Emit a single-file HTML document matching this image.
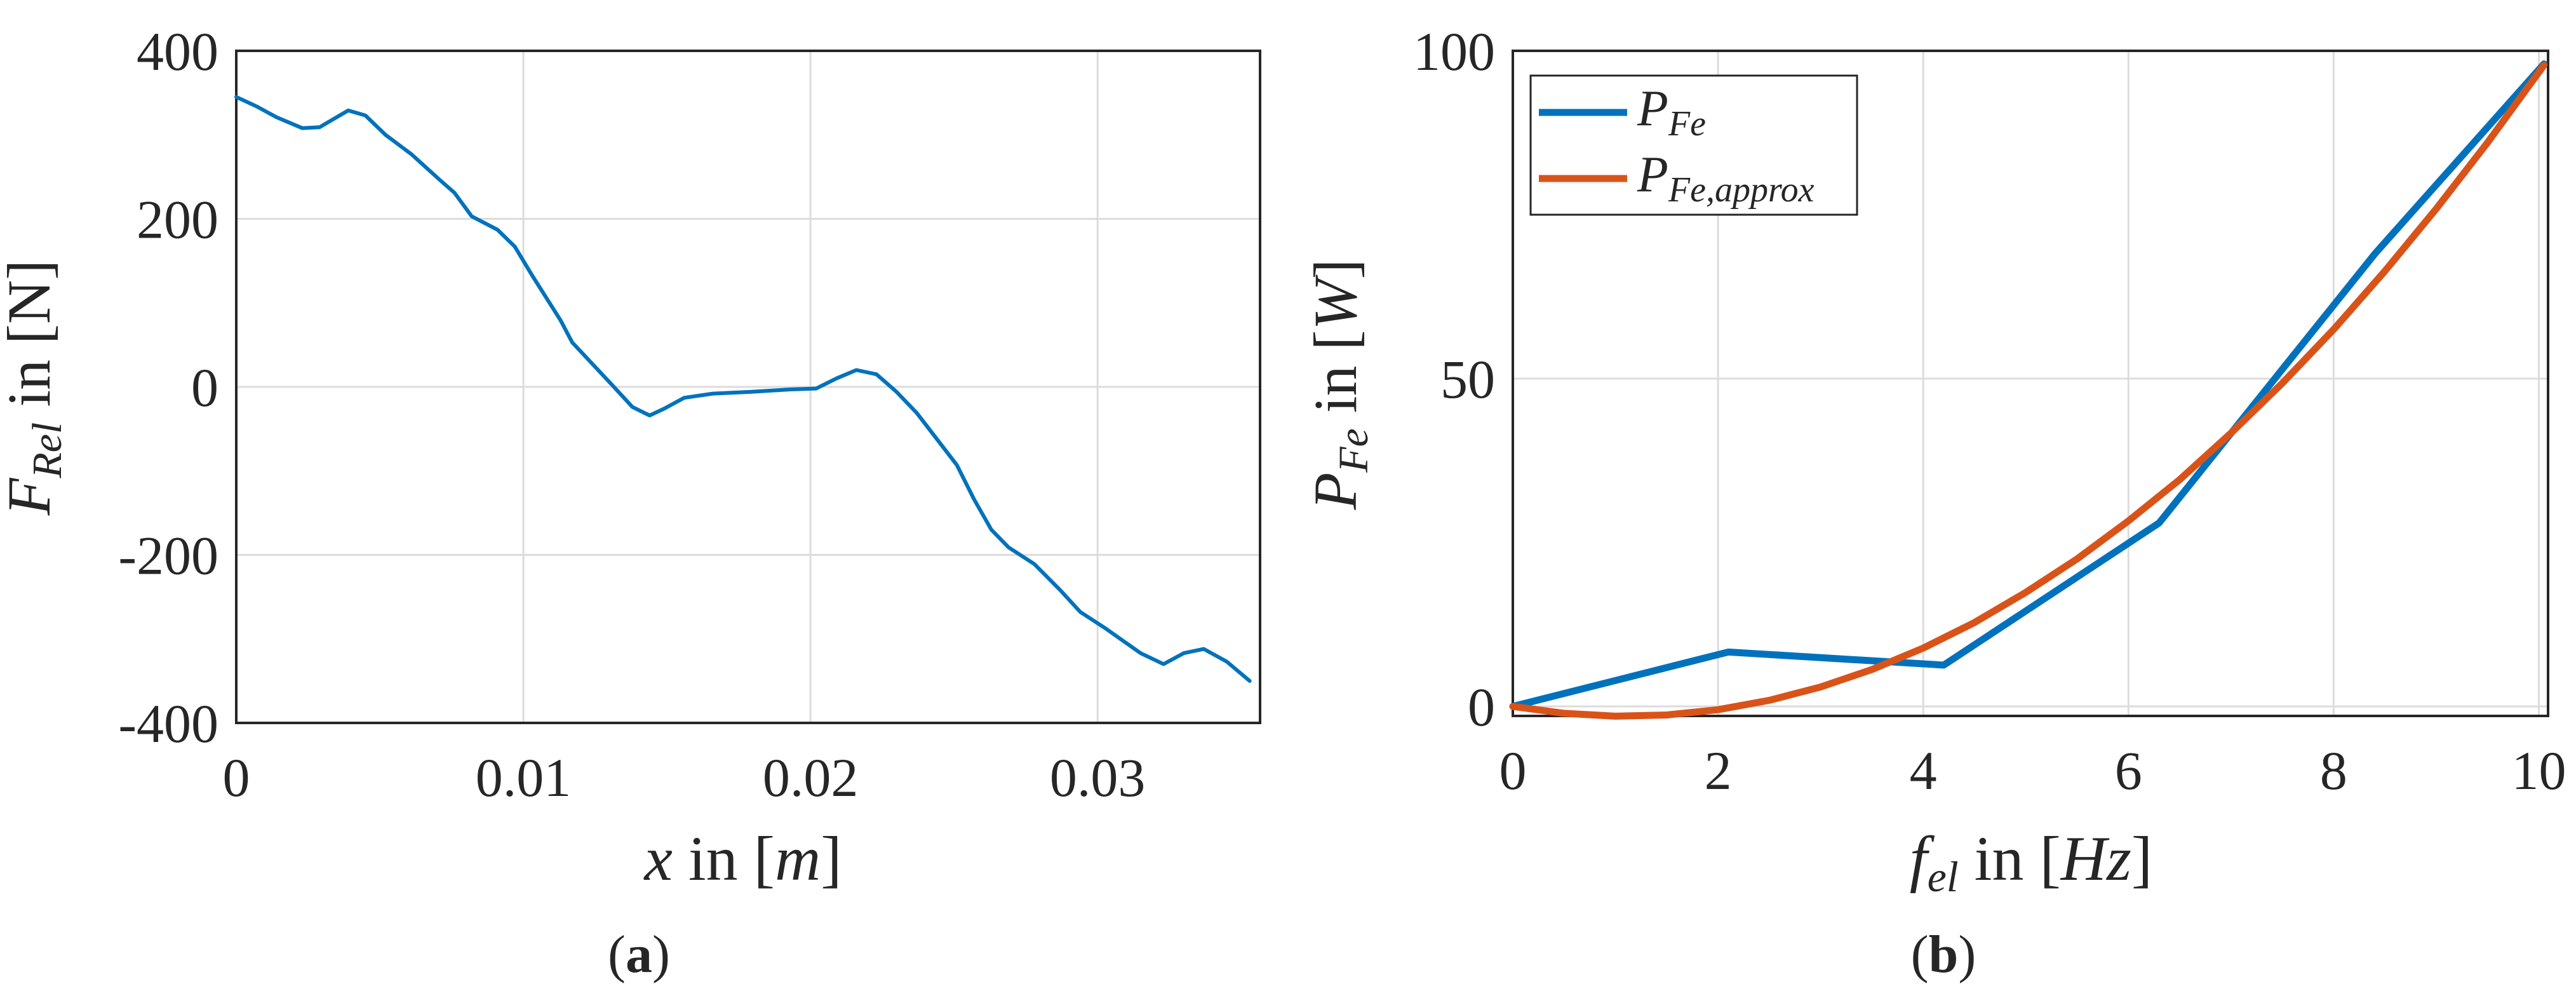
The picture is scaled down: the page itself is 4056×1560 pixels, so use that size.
<!DOCTYPE html>
<html><head><meta charset="utf-8"><style>
html,body{margin:0;padding:0;background:#fff;}
svg{display:block;}
text{font-family:"Liberation Serif",serif;fill:#262626;}
</style></head><body>
<svg id="fig" width="4056" height="1560" viewBox="0 0 4056 1560" xmlns="http://www.w3.org/2000/svg">
<g id="pa"></g>
<g id="pb"></g>
<text x="78" y="610" font-size="96" text-anchor="middle" transform="rotate(-90 78 610)"><tspan font-style="italic">F</tspan><tspan font-style="italic" font-size="66" dy="18">Rel</tspan><tspan dy="-18"> in [N]</tspan></text>
<text x="1170" y="1385" font-size="100" text-anchor="middle"><tspan font-style="italic">x</tspan> in [<tspan font-style="italic">m</tspan>]</text>
<text x="1006" y="1530" font-size="84" text-anchor="middle">(<tspan font-weight="bold">a</tspan>)</text>
<text x="2135" y="605" font-size="96" text-anchor="middle" transform="rotate(-90 2135 605)"><tspan font-style="italic">P</tspan><tspan font-style="italic" font-size="66" dy="18">Fe</tspan><tspan dy="-18"> in [</tspan><tspan font-style="italic">W</tspan>]</text>
<text x="3198" y="1385" font-size="100" text-anchor="middle"><tspan font-style="italic">f</tspan><tspan font-style="italic" font-size="68" dy="18">el</tspan><tspan dy="-18"> in [</tspan><tspan font-style="italic">Hz</tspan>]</text>
<text x="3060" y="1530" font-size="84" text-anchor="middle">(<tspan font-weight="bold">b</tspan>)</text>
</svg>
<script>
// Panel (a) data
const aX = [0,0.0007,0.0014,0.0023,0.0029,0.0039,0.0045,0.0052,0.0061,0.0071,0.0076,0.0082,0.0091,0.0097,0.0103,0.0113,0.0117,0.0131,0.0138,0.0144,0.0149,0.0156,0.0166,0.0179,0.0193,0.0202,0.0209,0.0216,0.0223,0.0230,0.0237,0.0244,0.0251,0.0257,0.0263,0.0269,0.0278,0.0287,0.0294,0.0303,0.0315,0.0323,0.0330,0.0337,0.0345,0.0353];
const aY = [345,334,321,308,309,329,323,300,277,246,231,203,187,167,133,79,53,2,-24,-34,-26,-13,-8,-6,-3,-2,10,20,15,-6,-31,-62,-93,-134,-170,-191,-211,-242,-268,-288,-317,-330,-317,-312,-327,-350];
const aXTicks = [0,0.01,0.02,0.03];
const aXTickLabels = ["0","0.01","0.02","0.03"];
const aYTicks = [-400,-200,0,200,400];
const aYTickLabels = ["-400","-200","0","200","400"];
// Panel (b) data
const bX = [0,2.1,4.2,6.3,8.4,10.05];
const bY = [0,8.3,6.3,28,69,98];
const bAX = [0,0.5,1,1.5,2,2.5,3,3.5,4,4.5,5,5.5,6,6.5,7,7.5,8,8.5,9,9.5,10.05];
const bAY = [0,-1.05,-1.49,-1.3,-0.5,0.93,2.97,5.63,8.9,12.8,17.4,22.5,28.3,34.6,41.7,49.3,57.5,66.4,75.9,86.0,97.8];
const bXTicks = [0,2,4,6,8,10];
const bXTickLabels = ["0","2","4","6","8","10"];
const bYTicks = [0,50,100];
const bYTickLabels = ["0","50","100"];

const NS="http://www.w3.org/2000/svg";
function mk(p,t,at){const e=document.createElementNS(NS,t);for(const k in at)e.setAttribute(k,at[k]);p.appendChild(e);return e;}

function panel(g,box,xd,yd,xt,xtl,yt,ytl,name){
  const sx=v=>box.l+(v-xd[0])/(xd[1]-xd[0])*(box.r-box.l);
  const sy=v=>box.b-(v-yd[0])/(yd[1]-yd[0])*(box.b-box.t);
  xt.forEach((v,i)=>{
    const l=mk(g,'line',{x1:sx(v),x2:sx(v),y1:box.t,y2:box.b,stroke:'#dcdcdc','stroke-width':3});
    
    
    const t=mk(g,'text',{x:sx(v),y:box.b+115,'font-size':86,'text-anchor':'middle'});
    t.textContent=xtl[i];
    
    
  });
  yt.forEach((v,i)=>{
    const l=mk(g,'line',{x1:box.l,x2:box.r,y1:sy(v),y2:sy(v),stroke:'#dcdcdc','stroke-width':3});
    
    
    const t=mk(g,'text',{x:box.l-28,y:sy(v)+30,'font-size':86,'text-anchor':'end'});
    t.textContent=ytl[i];
    
    
  });
  const r=mk(g,'rect',{x:box.l,y:box.t,width:box.r-box.l,height:box.b-box.t,fill:'none',stroke:'#262626','stroke-width':4});
  
  
  return {sx,sy};
}
function line(g,s,xs,ys,color,w,name){
  const d=xs.map((x,i)=>(i?'L':'M')+s.sx(x).toFixed(1)+' '+s.sy(ys[i]).toFixed(1)).join(' ');
  const p=mk(g,'path',{d:d,fill:'none',stroke:color,'stroke-width':w,'stroke-linejoin':'round','stroke-linecap':'round'});
  
  
}
const ga=document.getElementById('pa');
const sa=panel(ga,{l:372,r:1984,t:80,b:1138},[0,0.03566],[-400,400],aXTicks,aXTickLabels,aYTicks,aYTickLabels,'a');
line(ga,sa,aX,aY,'#0072BD',6,'force-line');

const gb=document.getElementById('pb');
const sb=panel(gb,{l:2382,r:4012,t:80,b:1127},[0,10.09],[-1.45,100],bXTicks,bXTickLabels,bYTicks,bYTickLabels,'b');
line(gb,sb,bX,bY,'#0072BD',11,'pfe-line');
line(gb,sb,bAX,bAY,'#D95319',11,'pfe-approx-line');

// legend
const lg=mk(gb,'g',{});


mk(lg,'rect',{x:2410,y:119,width:514,height:219,fill:'#fff',stroke:'#262626','stroke-width':3});
const l1=mk(lg,'line',{x1:2423,x2:2562,y1:177,y2:177,stroke:'#0072BD','stroke-width':11});


const l2=mk(lg,'line',{x1:2423,x2:2562,y1:281,y2:281,stroke:'#D95319','stroke-width':11});


const t1=mk(lg,'text',{x:2578,y:197,'font-size':80,'font-style':'italic'});
t1.innerHTML='P<tspan font-size="56" dy="16">Fe</tspan>';


const t2=mk(lg,'text',{x:2578,y:301,'font-size':80,'font-style':'italic'});
t2.innerHTML='P<tspan font-size="56" dy="16">Fe,approx</tspan>';


</script>
</body></html>
